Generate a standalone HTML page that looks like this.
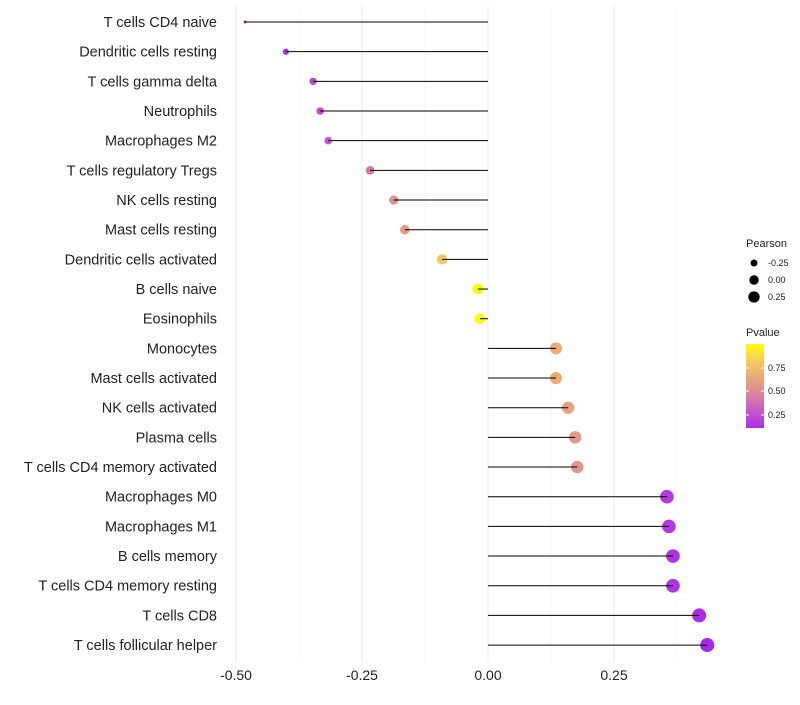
<!DOCTYPE html>
<html><head><meta charset="utf-8"><style>
body{margin:0;background:#fff}
svg text{font-family:"Liberation Sans",sans-serif}
</style></head><body>
<svg id="c" width="800" height="700"></svg>
<script>
const categories=["T cells CD4 naive","Dendritic cells resting","T cells gamma delta","Neutrophils","Macrophages M2","T cells regulatory  Tregs ","NK cells resting","Mast cells resting","Dendritic cells activated","B cells naive","Eosinophils","Monocytes","Mast cells activated","NK cells activated","Plasma cells","T cells CD4 memory activated","Macrophages M0","Macrophages M1","B cells memory","T cells CD4 memory resting","T cells CD8","T cells follicular helper"];
const pearson=[-0.482,-0.401,-0.347,-0.333,-0.317,-0.234,-0.187,-0.165,-0.091,-0.020,-0.016,0.135,0.135,0.159,0.173,0.177,0.355,0.359,0.367,0.367,0.419,0.435];
const pvalue=[0.05,0.12,0.2,0.24,0.28,0.42,0.52,0.57,0.8,0.98,0.98,0.66,0.66,0.6,0.56,0.55,0.16,0.16,0.14,0.14,0.1,0.08];
const xTicks=[-0.5,-0.25,0,0.25];
const xTickLabels=["-0.50","-0.25","0.00","0.25"];
const NS="http://www.w3.org/2000/svg";
const svg=document.getElementById('c');
const x=v=>488+v*504;
const y=i=>22+i*29.67;
const rad=v=>1.5+Math.sqrt(Math.max(0,v+0.482))*5.8;
function col(p){
  const stops=[[0.05,[160,32,240]],[0.3,[200,90,200]],[0.5,[222,140,150]],[0.7,[238,178,110]],[0.85,[247,210,90]],[1,[255,255,0]]];
  for(let k=1;k<stops.length;k++){if(p<=stops[k][0]||k==stops.length-1){const a=stops[k-1],b=stops[k];let t=(p-a[0])/(b[0]-a[0]);t=Math.max(0,Math.min(1,t));return 'rgb('+a[1].map((c,j)=>Math.round(c+(b[1][j]-c)*t)).join(',')+')';}}
}
function el(t,a,txt){const e=document.createElementNS(NS,t);for(const k in a)e.setAttribute(k,a[k]);if(txt!=null)e.textContent=txt;svg.appendChild(e);return e;}
[-0.375,-0.125,0.125,0.375].forEach(v=>{const g=el('line',{x1:x(v),x2:x(v),y1:5,y2:662,stroke:'#f2f2f2','stroke-width':0.6});

});
xTicks.forEach((v,i)=>{const g=el('line',{x1:x(v),x2:x(v),y1:5,y2:662,stroke:'#ebebeb','stroke-width':1});


const t=el('text',{x:x(v),y:680,'text-anchor':'middle','font-size':14,fill:'#222'},xTickLabels[i]);

});
categories.forEach((c,i)=>{
  const t=el('text',{x:217,y:y(i)+5,'text-anchor':'end','font-size':14.5,fill:'#222'},c);
  
  
  const d=el('circle',{cx:x(pearson[i]),cy:y(i),r:rad(pearson[i]),fill:col(pvalue[i])});
  
  
  const l=el('line',{x1:x(0),x2:x(pearson[i]),y1:y(i),y2:y(i),stroke:'#000','stroke-width':1});
  
  
});
const lt=el('text',{x:746,y:247,'font-size':11,fill:'#222'},'Pearson');


[[-0.25,263],[0,280],[0.25,297]].forEach(([v,yy])=>{
  const c=el('circle',{cx:754,cy:yy,r:rad(v)-0.8,fill:'#000'});
  
  
  const t=el('text',{x:768,y:yy+3,'font-size':9,fill:'#222'},v==0?'0.00':v.toFixed(2));
  
  
});
const pt=el('text',{x:746,y:336,'font-size':11,fill:'#222'},'Pvalue');


const defs=el('defs',{});
const lg=document.createElementNS(NS,'linearGradient');lg.setAttribute('id','g');lg.setAttribute('x1',0);lg.setAttribute('y1',1);lg.setAttribute('x2',0);lg.setAttribute('y2',0);
for(let k=0;k<=10;k++){const s=document.createElementNS(NS,'stop');s.setAttribute('offset',k/10);s.setAttribute('stop-color',col(0.11+0.89*k/10));lg.appendChild(s);}
defs.appendChild(lg);
const bar=el('rect',{x:746,y:344,width:18,height:84,fill:'url(#g)'});


[[0.75,368],[0.5,391],[0.25,415]].forEach(([v,yy])=>{
  const t=el('text',{x:768,y:yy+3,'font-size':9,fill:'#222'},v.toFixed(2));
  
  
  el('line',{x1:746,x2:749,y1:yy,y2:yy,stroke:'#fff'});el('line',{x1:761,x2:764,y1:yy,y2:yy,stroke:'#fff'});
});
</script>
</body></html>
